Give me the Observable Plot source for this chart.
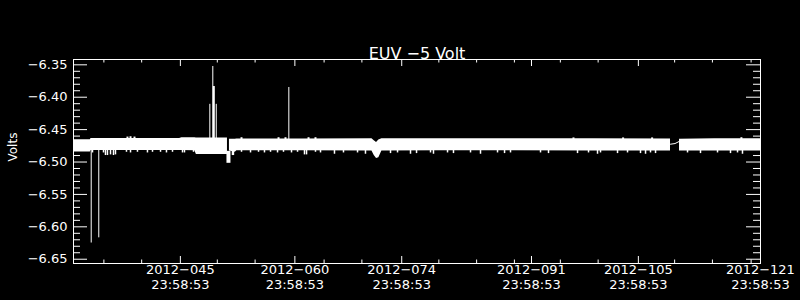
<!DOCTYPE html>
<html><head><meta charset="utf-8">
<script src="https://cdn.jsdelivr.net/npm/d3@7"></script>
<script src="https://cdn.jsdelivr.net/npm/@observablehq/plot@0.6"></script>
<style>
html,body{margin:0;padding:0;background:#000;}
#chart svg{display:block;}
</style></head><body><div id="chart"></div>
<script>
// ---- texts ----
const chartTitle = "EUV \u22125 Volt";
const yTitle = "Volts";

// ---- axis ticks (x in fractional day-of-year 2012) ----
const xMajorDays  = [45.9992, 60.9992, 74.9992, 91.9992, 105.9992, 121.9992];
const xMajorDates = ["2012\u2212045", "2012\u2212060", "2012\u2212074", "2012\u2212091", "2012\u2212105", "2012\u2212121"];
const xMajorTimes = ["23:58:53", "23:58:53", "23:58:53", "23:58:53", "23:58:53", "23:58:53"];
const xMinorDays  = [35.98, 40.93, 50.84, 55.79, 64.83, 69.78, 79.86, 84.81, 89.76, 95.78, 100.73, 110.75, 115.70, 120.77];
const yMajor = [-6.35, -6.40, -6.45, -6.50, -6.55, -6.60, -6.65];
const yMinor = [-6.36, -6.37, -6.38, -6.39, -6.41, -6.42, -6.43, -6.44, -6.46, -6.47, -6.48, -6.49,
                -6.51, -6.52, -6.53, -6.54, -6.56, -6.57, -6.58, -6.59, -6.61, -6.62, -6.63, -6.64];
const xDomain = [32, 122];
const yDomain = [-6.6566, -6.3418];

// ---- dense noise band of the signal (envelope) ----
const bandDay    = [32.0, 34.2, 34.3, 45.9, 46.2, 47.9, 48.1, 52.17, 52.3, 52.43, 53.2, 53.4, 62.0, 71.1, 71.4, 71.7, 72.0, 72.4, 80.0, 90.0, 100.0, 110.21, 110.8, 111.39, 116.0, 122.0];
const bandTop    = [-6.4655, -6.4655, -6.4638, -6.4638, -6.4625, -6.4625, -6.4630, -6.4630, NaN, -6.4650, -6.4650, -6.4645, -6.4645, -6.4640, -6.4670, -6.4700, -6.4660, -6.4640, -6.4640, -6.4640, -6.4640, -6.4645, NaN, -6.4650, -6.4640, -6.4640];
const bandBottom = [-6.4845, -6.4845, -6.4822, -6.4822, -6.4822, -6.4825, -6.4885, -6.4885, NaN, -6.4830, -6.4850, -6.4825, -6.4825, -6.4830, -6.4900, -6.4945, -6.4935, -6.4830, -6.4828, -6.4828, -6.4830, -6.4830, NaN, -6.4830, -6.4830, -6.4830];
const bandMid = -6.473;

// small downward excursions below the band
const dipDay = [34.49, 35.93, 36.19, 36.45, 36.85, 37.24, 37.50, 38.94, 39.47, 40.38, 41.69, 42.35, 43.40, 44.18, 44.97, 46.28, 46.54, 47.72,
                52.83, 52.95, 54.01, 55.19, 56.24, 57.02, 57.81, 58.73, 59.51, 60.56, 61.35, 62.26, 62.53, 63.70, 64.36, 66.19, 67.37, 69.21, 70.25,
                73.53, 74.45, 76.15, 76.94, 78.77, 79.16, 81.00, 81.78, 84.01, 85.32, 87.55, 88.47, 89.25, 93.18, 94.23, 98.03, 99.47, 100.65,
                101.04, 103.27, 104.58, 106.28, 106.94, 107.59, 108.25, 112.44, 114.14, 116.37, 118.07, 118.99, 119.64];
const dipLow = [-6.486, -6.486, -6.490, -6.490, -6.489, -6.490, -6.489, -6.485, -6.486, -6.485, -6.486, -6.485, -6.485, -6.486, -6.485, -6.486, -6.486, -6.485,
                -6.490, -6.490, -6.485, -6.486, -6.485, -6.486, -6.485, -6.486, -6.485, -6.486, -6.485, -6.489, -6.489, -6.485, -6.486, -6.488, -6.486, -6.486, -6.488,
                -6.487, -6.486, -6.488, -6.487, -6.486, -6.488, -6.486, -6.487, -6.486, -6.488, -6.486, -6.487, -6.486, -6.486, -6.487, -6.487, -6.486, -6.488,
                -6.486, -6.487, -6.486, -6.487, -6.488, -6.486, -6.487, -6.486, -6.487, -6.486, -6.487, -6.486, -6.488];
// small upward excursions above the band
const bumpDay  = [39.07, 39.47, 39.99, 54.01, 58.86, 59.77, 62.79, 63.70, 97.5, 104.0, 107.8, 119.5];
const bumpHigh = [-6.4615, -6.4610, -6.4615, -6.4625, -6.4625, -6.4625, -6.4625, -6.4625, -6.4628, -6.4628, -6.4628, -6.4625];

// isolated spikes
const spikeDay   = [34.32, 35.31, 49.86, 50.25, 50.38, 50.70, 60.21];
const spikeValue = [-6.625, -6.617, -6.411, -6.3526, -6.3835, -6.411, -6.385];
const spikeWidth = [1, 1, 1, 1, 2, 1, 1];

// short drop-out (wide) near day 52.3
const dropDay = [52.3];
const dropValue = [-6.502];
const dropFrom = [-6.4835];

// thin connecting segment across the data gap near day 111
const gapDay   = [110.21, 110.8, 111.39];
const gapValue = [-6.4725, -6.4715, -6.4680];

// ---- build tables ----
const band = bandDay.map((d, i) => ({day: d, top: bandTop[i], bottom: bandBottom[i]}));
const dips = dipDay.map((d, i) => ({day: d, low: dipLow[i]}));
const bumps = bumpDay.map((d, i) => ({day: d, high: bumpHigh[i]}));
const spikes = spikeDay.map((d, i) => ({day: d, v: spikeValue[i], w: spikeWidth[i]}));
const drops = dropDay.map((d, i) => ({day: d, v: dropValue[i], from: dropFrom[i]}));
const gap = gapDay.map((d, i) => ({day: d, v: gapValue[i]}));
const xMajor = xMajorDays.map((d, i) => ({day: d, date: xMajorDates[i], time: xMajorTimes[i]}));

const W = 800, H = 300, ML = 73, MR = 40, MT = 59, MB = 37;
const PW = W - ML - MR, PH = H - MT - MB;
const fmt = d3.format(".2f");
const font = "DejaVu Sans";

const chart = Plot.plot({
  width: W, height: H,
  marginLeft: ML, marginRight: MR, marginTop: MT, marginBottom: MB,
  style: {background: "black", color: "white", fontFamily: font, fontSize: "13px"},
  x: {domain: xDomain, axis: null},
  y: {domain: yDomain, axis: null},
  marks: [
    Plot.areaY(band, {x: "day", y1: "bottom", y2: "top", fill: "white", curve: "linear"}),
    Plot.ruleX(dips, {x: "day", y1: -6.480, y2: "low", stroke: "white", strokeWidth: 1.5}),
    Plot.ruleX(bumps, {x: "day", y1: -6.466, y2: "high", stroke: "white", strokeWidth: 2}),
    Plot.ruleX(spikes, {x: "day", y1: bandMid, y2: "v", stroke: "white", strokeWidth: "w"}),
    Plot.ruleX(drops, {x: "day", y1: "from", y2: "v", stroke: "white", strokeWidth: 4}),
    Plot.line(gap, {x: "day", y: "v", stroke: "white", strokeWidth: 1}),
    Plot.frame({stroke: "white"}),
    // y ticks left & right (inward)
    Plot.tickY(yMajor, {y: d => d, stroke: "white", insetRight: PW - 14}),
    Plot.tickY(yMinor, {y: d => d, stroke: "white", insetRight: PW - 7}),
    Plot.tickY(yMajor, {y: d => d, stroke: "white", insetLeft: PW - 14}),
    Plot.tickY(yMinor, {y: d => d, stroke: "white", insetLeft: PW - 7}),
    // x ticks bottom & top (inward)
    Plot.tickX(xMajorDays, {x: d => d, stroke: "white", insetTop: PH - 7}),
    Plot.tickX(xMinorDays, {x: d => d, stroke: "white", insetTop: PH - 3.5}),
    Plot.tickX(xMajorDays, {x: d => d, stroke: "white", insetBottom: PH - 7}),
    Plot.tickX(xMinorDays, {x: d => d, stroke: "white", insetBottom: PH - 3.5}),
    // tick labels
    Plot.text(yMajor, {y: d => d, text: d => fmt(d), frameAnchor: "left", textAnchor: "end", dx: -6, fill: "white", fontSize: 13}),
    Plot.text(xMajor, {x: "day", text: "date", frameAnchor: "bottom", dy: 10.8, fill: "white", fontSize: 13}),
    Plot.text(xMajor, {x: "day", text: "time", frameAnchor: "bottom", dy: 25.2, fill: "white", fontSize: 13}),
    // axis title & chart title
    Plot.text([yTitle], {frameAnchor: "left", dx: -60, rotate: -90, fill: "white", fontSize: 12}),
    Plot.text([chartTitle], {frameAnchor: "top", dy: -12, fill: "white", fontSize: 16})
  ]
});
document.getElementById("chart").appendChild(chart);
</script>
</body></html>
